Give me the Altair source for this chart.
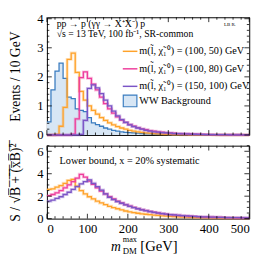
import altair as alt
import pandas as pd

# ---------------- data (bin left edges, 10 GeV bins) ----------------
edges = list(range(0, 500, 10))

ww_bkg = [0.45, 1.55, 2.2, 2.47, 1.95, 1.3, 1.25, 0.9, 0.85, 0.8,
          0.6, 0.42, 0.36, 0.3, 0.24, 0.2, 0.16, 0.13, 0.11, 0.09,
          0.08, 0.07, 0.06, 0.05, 0.04, 0.035, 0.03, 0.025, 0.02, 0.02,
          0.015, 0.015, 0.01, 0.01, 0.01, 0.008, 0.007, 0.006, 0.005, 0.005,
          0.004, 0.004, 0.003, 0.003, 0.002, 0.002, 0.002, 0.001, 0.001, 0.001]

sig_100_50 = [0, 0, 0.02, 0.3, 0.95, 2.6, 2.82, 2.15, 1.5, 1.2,
              1.0, 0.85, 0.72, 0.6, 0.5, 0.42, 0.35, 0.29, 0.24, 0.2,
              0.16, 0.13, 0.11, 0.09, 0.07, 0.06, 0.05, 0.04, 0.03, 0.025,
              0.02, 0.015, 0.012, 0.01, 0.008, 0.006, 0.005, 0.004, 0.003, 0.002,
              0.002, 0.001, 0.001, 0.001, 0, 0, 0, 0, 0, 0]

sig_100_80 = [0, 0, 0, 0, 0, 0, 0.03, 0.55, 1.97, 2.17,
              1.95, 1.75, 1.55, 1.3, 1.08, 0.9, 0.75, 0.62, 0.51, 0.43,
              0.36, 0.3, 0.25, 0.21, 0.18, 0.15, 0.13, 0.11, 0.095, 0.08,
              0.07, 0.06, 0.05, 0.045, 0.04, 0.035, 0.03, 0.025, 0.02, 0.018,
              0.015, 0.013, 0.011, 0.01, 0.008, 0.007, 0.006, 0.005, 0.004, 0.003]

sig_150_100 = [0, 0, 0, 0, 0, 0, 0, 0, 0.02, 0.5,
               1.6, 1.72, 1.62, 1.42, 1.2, 1.0, 0.82, 0.66, 0.53, 0.43,
               0.35, 0.29, 0.24, 0.2, 0.16, 0.13, 0.11, 0.095, 0.08, 0.07,
               0.06, 0.05, 0.045, 0.04, 0.035, 0.03, 0.025, 0.022, 0.019, 0.016,
               0.014, 0.012, 0.01, 0.009, 0.008, 0.007, 0.006, 0.005, 0.004, 0.003]

signif_100_50 = [2.6, 2.65, 2.8, 2.95, 3.15, 3.4, 3.5, 2.9, 2.5, 2.2,
                 1.95, 1.75, 1.55, 1.4, 1.25, 1.1, 0.98, 0.88, 0.78, 0.68,
                 0.6, 0.54, 0.48, 0.43, 0.39, 0.35, 0.31, 0.28, 0.25, 0.22,
                 0.2, 0.18, 0.16, 0.14, 0.13, 0.12, 0.1, 0.09, 0.08, 0.07,
                 0.06, 0.055, 0.05, 0.045, 0.04, 0.035, 0.03, 0.025, 0.02, 0.02]

signif_100_80 = [2.05, 2.15, 2.3, 2.5, 2.75, 3.0, 3.3, 3.6, 3.95, 3.7,
                 3.35, 3.05, 2.75, 2.45, 2.2, 1.95, 1.75, 1.55, 1.4, 1.25,
                 1.12, 1.0, 0.9, 0.8, 0.72, 0.64, 0.57, 0.51, 0.45, 0.4,
                 0.36, 0.33, 0.3, 0.27, 0.24, 0.22, 0.2, 0.18, 0.16, 0.15,
                 0.14, 0.13, 0.12, 0.11, 0.1, 0.09, 0.08, 0.075, 0.07, 0.065]

signif_150_100 = [1.55, 1.65, 1.8, 1.95, 2.15, 2.35, 2.6, 2.85, 3.1, 3.3,
                  3.45, 3.15, 2.85, 2.55, 2.2, 1.9, 1.7, 1.52, 1.37, 1.23,
                  1.1, 0.98, 0.88, 0.79, 0.71, 0.63, 0.56, 0.5, 0.45, 0.4,
                  0.36, 0.33, 0.3, 0.27, 0.24, 0.22, 0.2, 0.18, 0.16, 0.15,
                  0.14, 0.13, 0.12, 0.11, 0.1, 0.09, 0.085, 0.08, 0.075, 0.07]

x_ticks_major = [0, 100, 200, 300, 400, 500]
x_ticks_minor = [v for v in range(0, 501, 20) if v % 100 != 0]
y1_ticks_major = [0, 1, 2, 3, 4]
y1_ticks_minor = [round(i * 0.2, 2) for i in range(0, 21) if i % 5 != 0]
y2_ticks_major = [0, 2, 4, 6]
y2_ticks_minor = [0.5, 1, 1.5, 2.5, 3, 3.5, 4.5, 5, 5.5, 6.5]

legend_labels = ["m(l\u0303, \u03c7\u0303\u2081\u2070) = (100, 50) GeV",
                 "m(l\u0303, \u03c7\u0303\u2081\u2070) = (100, 80) GeV",
                 "m(l\u0303, \u03c7\u0303\u2081\u2070) = (150, 100) GeV"]
colors = ["#ffa22a", "#ee3d9c", "#7b55c6"]
blue_line, blue_fill = "#3a7cc0", "#d7e6f5"
SERIF = "Liberation Serif"

# ---------------- layout ----------------
W, H1, H2 = 208, 121, 75
xscale = alt.Scale(domain=[0, 500], nice=False, zero=False)
y1scale = alt.Scale(domain=[0, 4.05], nice=False)
y2scale = alt.Scale(domain=[0, 6.5], nice=False)


def step_df(vals):
    return pd.DataFrame({"x": edges + [500], "y": list(vals) + [vals[-1]]})


one = pd.DataFrame({"a": [0]})

top_x = dict(scale=xscale, axis=None)
top_y_axis = alt.Axis(values=y1_ticks_major, ticks=False, domain=False, grid=False,
                      labelFont=SERIF, labelFontSize=13, labelPadding=4,
                      title="Events / 10 GeV", titleFont=SERIF, titleFontSize=14,
                      titleFontWeight="normal", titlePadding=15)
bot_x_axis = alt.Axis(values=x_ticks_major, ticks=False, domain=False, grid=False,
                      labelFont=SERIF, labelFontSize=13, labelPadding=4, title=None)
ov = "".join(c + "\u0305" for c in "B + (xB)\u00b2")
bot_y_axis = alt.Axis(values=y2_ticks_major, ticks=False, domain=False, grid=False,
                      labelFont=SERIF, labelFontSize=13, labelPadding=4,
                      title="S / \u221a" + ov, titleFont=SERIF, titleFontSize=14,
                      titleFontWeight="normal", titlePadding=15)


def xticks(vals, h, length, xenc):
    df = pd.DataFrame({"v": vals})
    b = alt.Chart(df).mark_rule(color="black", strokeWidth=0.8)
    return [b.encode(x=alt.X("v:Q", **xenc), y=alt.value(h), y2=alt.value(h - length)),
            b.encode(x=alt.X("v:Q", **xenc), y=alt.value(0), y2=alt.value(length))]


def yticks(vals, length, yenc):
    df = pd.DataFrame({"v": vals})
    b = alt.Chart(df).mark_rule(color="black", strokeWidth=0.8)
    return [b.encode(y=alt.Y("v:Q", **yenc), x=alt.value(0), x2=alt.value(length)),
            b.encode(y=alt.Y("v:Q", **yenc), x=alt.value(W), x2=alt.value(W - length))]


# ---------------- top panel ----------------
ty = dict(scale=y1scale, axis=top_y_axis)
top_layers = []
ww = step_df(ww_bkg)
top_layers.append(alt.Chart(ww).mark_area(interpolate="step-after", color=blue_fill).encode(
    x=alt.X("x:Q", **top_x), y=alt.Y("y:Q", **ty)))
top_layers.append(alt.Chart(ww).mark_line(interpolate="step-after", color=blue_line, strokeWidth=1.3).encode(
    x=alt.X("x:Q", **top_x), y=alt.Y("y:Q", **ty)))
for vals, col in zip([sig_100_50, sig_100_80, sig_150_100], colors):
    d = step_df(vals)
    top_layers.append(alt.Chart(d).mark_line(interpolate="step-after", color=col, strokeWidth=3,
                                             opacity=0.3).encode(
        x=alt.X("x:Q", **top_x), y=alt.Y("y:Q", **ty)))
    top_layers.append(alt.Chart(d).mark_line(interpolate="step-after", color=col, strokeWidth=1.3).encode(
        x=alt.X("x:Q", **top_x), y=alt.Y("y:Q", **ty)))

top_layers += xticks(x_ticks_major, H1, 5, top_x) + xticks(x_ticks_minor, H1, 2.5, top_x)
top_layers += yticks(y1_ticks_major, 5, ty) + yticks(y1_ticks_minor, 2.5, ty)

# annotations
top_layers.append(alt.Chart(one).mark_text(text="pp \u2192 p (\u03b3\u03b3 \u2192 X\u207aX\u207b) p",
                                           align="left", baseline="middle", font=SERIF,
                                           fontSize=10).encode(x=alt.value(10), y=alt.value(7)))
top_layers.append(alt.Chart(one).mark_text(text="\u221as = 13 TeV, 100 fb\u207b\u00b9, SR-common",
                                           align="left", baseline="middle", font=SERIF,
                                           fontSize=10).encode(x=alt.value(10), y=alt.value(17)))
top_layers.append(alt.Chart(one).mark_text(text="LB R.", align="left", baseline="middle",
                                           font=SERIF, fontSize=5).encode(x=alt.value(182), y=alt.value(7)))
for i, (lab, col) in enumerate(zip(legend_labels, colors)):
    yy = 35 + 18 * i
    top_layers.append(alt.Chart(one).mark_rule(color=col, strokeWidth=1.5).encode(
        x=alt.value(78), x2=alt.value(93), y=alt.value(yy)))
    top_layers.append(alt.Chart(one).mark_text(text=lab, align="left", baseline="middle", font=SERIF,
                                               fontSize=10.5).encode(x=alt.value(95), y=alt.value(yy)))
top_layers.append(alt.Chart(one).mark_rect(fill=blue_fill, stroke=blue_line, strokeWidth=1.2).encode(
    x=alt.value(78.5), x2=alt.value(92.5), y=alt.value(80), y2=alt.value(92)))
top_layers.append(alt.Chart(one).mark_text(text="WW Background", align="left", baseline="middle",
                                           font=SERIF, fontSize=10.5).encode(x=alt.value(95), y=alt.value(86)))

top = alt.layer(*top_layers).properties(width=W, height=H1)

# ---------------- bottom panel ----------------
bx = dict(scale=xscale, axis=bot_x_axis)
by = dict(scale=y2scale, axis=bot_y_axis)
bot_layers = []
for vals, col in zip([signif_100_50, signif_100_80, signif_150_100], colors):
    d = step_df(vals)
    bot_layers.append(alt.Chart(d).mark_line(interpolate="step-after", color=col, strokeWidth=3,
                                             opacity=0.3).encode(
        x=alt.X("x:Q", **bx), y=alt.Y("y:Q", **by)))
    bot_layers.append(alt.Chart(d).mark_line(interpolate="step-after", color=col, strokeWidth=1.3).encode(
        x=alt.X("x:Q", **bx), y=alt.Y("y:Q", **by)))

bot_layers += xticks(x_ticks_major, H2, 5, bx) + xticks(x_ticks_minor, H2, 2.5, bx)
bot_layers += yticks(y2_ticks_major, 5, by) + yticks(y2_ticks_minor, 2.5, by)

bot_layers.append(alt.Chart(one).mark_text(text="Lower bound, x = 20% systematic", align="left",
                                           baseline="middle", font=SERIF, fontSize=10.5).encode(
    x=alt.value(13), y=alt.value(16)))
# x-axis title m_DM^max [GeV]
bot_layers.append(alt.Chart(one).mark_text(text="m", align="left", baseline="alphabetic", font=SERIF,
                                           fontStyle="italic", fontSize=14).encode(
    x=alt.value(66), y=alt.value(108)))
bot_layers.append(alt.Chart(one).mark_text(text="max", align="left", baseline="alphabetic", font=SERIF,
                                           fontSize=8.5).encode(x=alt.value(78), y=alt.value(99)))
bot_layers.append(alt.Chart(one).mark_text(text="DM", align="left", baseline="alphabetic", font=SERIF,
                                           fontSize=9).encode(x=alt.value(78), y=alt.value(111)))
bot_layers.append(alt.Chart(one).mark_text(text="[GeV]", align="left", baseline="alphabetic", font=SERIF,
                                           fontSize=15).encode(x=alt.value(96), y=alt.value(108)))

bottom = alt.layer(*bot_layers).properties(width=W, height=H2)

chart = alt.vconcat(top, bottom, spacing=11, bounds="flush").properties(
    padding={"left": 0, "top": 0, "right": 2, "bottom": 0}
).configure_view(stroke="black", strokeWidth=1)

chart.save("out.html", embed_options={"renderer": "svg", "actions": False})
